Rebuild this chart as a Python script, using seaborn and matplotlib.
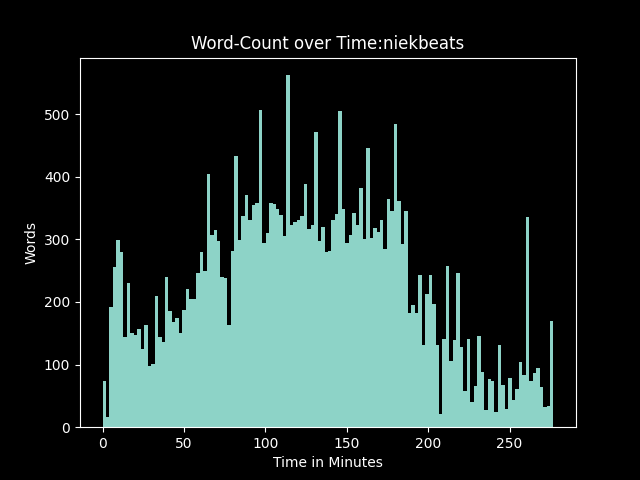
import numpy as np
import pandas as pd
import matplotlib
matplotlib.use("Agg")
import matplotlib.pyplot as plt
import seaborn as sns

# --- data: words per bin ---
SPEAKER = "niekbeats"
TOTAL_MINUTES = 277
words = [
    73, 16, 192, 256, 299, 280, 144, 230, 150, 147, 156, 125, 163, 97, 101,
    209, 144, 136, 240, 185, 168,
    174, 150, 187, 220, 204, 204, 246, 280, 249, 404, 307, 315, 297, 240,
    238, 163, 281, 433, 299, 337, 371,
    331, 355, 358, 506, 294, 310, 358, 356, 348, 339, 305, 562, 323, 327,
    331, 337, 388, 316, 323, 471, 297, 319,
    280, 281, 331, 340, 505, 348, 294, 307, 342, 323, 382, 300, 446, 302,
    318, 312, 331, 284, 364, 345, 484, 361,
    292, 345, 182, 195, 182, 243, 131, 212, 243, 196, 131, 21, 141, 257,
    105, 139, 246, 128, 58, 141, 40, 66,
    145, 88, 27, 77, 73, 24, 131, 67, 29, 78, 43, 61, 104, 83, 335, 73,
    86, 94, 64, 32, 34, 169,
]

n_bins = len(words)
edges = np.linspace(0, TOTAL_MINUTES, n_bins + 1)
df = pd.DataFrame({
    "minute": (edges[:-1] + edges[1:]) / 2,
    "words": words,
})

plt.style.use("dark_background")
fig, ax = plt.subplots(figsize=(6.4, 4.8), dpi=100)

sns.histplot(data=df, x="minute", weights="words", bins=n_bins,
             binrange=(0, TOTAL_MINUTES), color="#8dd3c7", alpha=1,
             linewidth=0, ax=ax)

ax.set_title(f"Word-Count over Time:{SPEAKER}")
ax.set_xlabel("Time in Minutes")
ax.set_ylabel("Words")

fig.savefig("out.png")
